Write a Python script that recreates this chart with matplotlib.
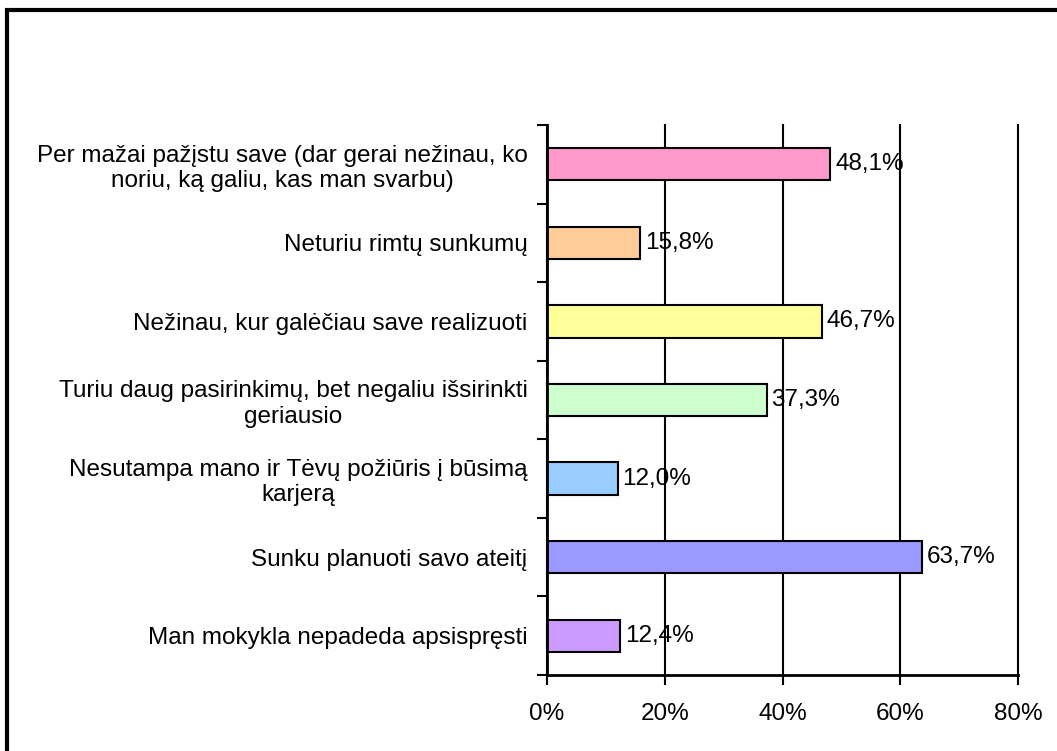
import numpy as np
import matplotlib.pyplot as plt
from matplotlib.patches import Rectangle
from matplotlib.ticker import FixedLocator

plt.rcParams['font.family'] = ['Liberation Sans', 'DejaVu Sans']

# Duomenys (iš viršaus į apačią)
labels = [
    "Per mažai pažįstu save (dar gerai nežinau, ko\nnoriu, ką galiu, kas man svarbu)",
    "Neturiu rimtų sunkumų",
    "Nežinau, kur galėčiau save realizuoti",
    "Turiu daug pasirinkimų, bet negaliu išsirinkti\ngeriausio",
    "Nesutampa mano ir Tėvų požiūris į būsimą\nkarjerą",
    "Sunku planuoti savo ateitį",
    "Man mokykla nepadeda apsispręsti",
]
values = [48.1, 15.8, 46.7, 37.3, 12.0, 63.7, 12.4]
colors = ["#FF99CC", "#FFCC99", "#FFFF99", "#CCFFCC", "#99CCFF", "#9999FF", "#CC99FF"]
xticks = [0, 20, 40, 60, 80]

fs = 17.5

fig = plt.figure(figsize=(10.57, 7.51), dpi=100)
ax = fig.add_axes([547 / 1057, 1 - 675 / 751, 471 / 1057, 550 / 751])

y = np.arange(len(values))[::-1]
ax.barh(y, values, height=0.41, color=colors, edgecolor="black", linewidth=1.5, zorder=3)

for yi, v in zip(y, values):
    ax.annotate(f"{v:.1f}%".replace(".", ","), (v, yi), xytext=(3.5, 0),
                textcoords="offset points", va="center", ha="left",
                fontsize=fs, zorder=4)

ax.set_xlim(0, 80)
ax.set_ylim(-0.5, len(values) - 0.5)
ax.set_xticks(xticks)
ax.set_xticklabels([f"{t}%" for t in xticks], fontsize=fs)
ax.set_yticks(y)
ax.set_yticklabels(labels, fontsize=fs, multialignment="center")
ax.yaxis.set_minor_locator(FixedLocator(np.arange(-0.5, len(values), 1.0)))
ax.tick_params(axis="y", which="major", length=0, pad=14)
ax.tick_params(axis="y", which="minor", length=7, width=1.5)
ax.tick_params(axis="x", length=7, width=1.5, pad=13)

ax.grid(axis="x", color="black", linewidth=1.5, zorder=1)
for gl in ax.get_xgridlines():
    gl.set_clip_on(False)
for s in ["top", "right"]:
    ax.spines[s].set_visible(False)
for s in ["left", "bottom"]:
    ax.spines[s].set_linewidth(2)
    ax.spines[s].set_zorder(5)

# rėmelis aplink diagramą
fig.patches.append(Rectangle((7 / 1057, -0.05), 1.2, 1 - 10 / 751 + 0.05,
                             transform=fig.transFigure, fill=False,
                             edgecolor="black", linewidth=3))

fig.savefig("out.png", dpi=100)
